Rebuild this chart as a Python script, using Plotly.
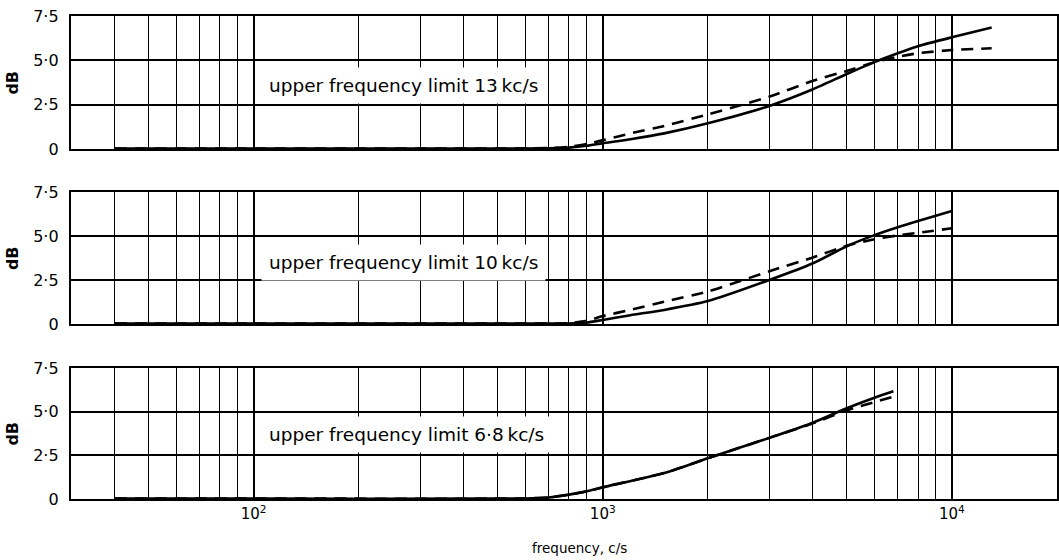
import math
import plotly.graph_objects as go

# ---------------- data ----------------
freq_13k = [40, 100, 500, 700, 800, 900, 1000, 1100, 1200, 1500, 2000, 3000, 4000, 5000, 6000, 7000, 8000, 10000, 13000]
solid_13k = [0.03, 0.03, 0.03, 0.04, 0.08, 0.18, 0.33, 0.44, 0.55, 0.88, 1.45, 2.43, 3.37, 4.23, 4.9, 5.4, 5.8, 6.3, 6.85]
dash_13k = [0.03, 0.03, 0.03, 0.05, 0.12, 0.28, 0.5, 0.69, 0.88, 1.3, 1.95, 2.95, 3.85, 4.4, 4.89, 5.2, 5.4, 5.58, 5.68]

freq_10k = [40, 100, 500, 800, 900, 1000, 1200, 1500, 2000, 3000, 4000, 5000, 6000, 7000, 8000, 10000]
solid_10k = [0.03, 0.03, 0.03, 0.03, 0.08, 0.23, 0.5, 0.8, 1.3, 2.5, 3.45, 4.42, 5.05, 5.5, 5.85, 6.42]
dash_10k = [0.03, 0.03, 0.03, 0.05, 0.18, 0.45, 0.8, 1.27, 1.84, 3.0, 3.78, 4.45, 4.82, 5.03, 5.18, 5.44]

freq_6k8 = [40, 100, 500, 600, 700, 800, 900, 1000, 1500, 2000, 3000, 4000, 5000, 6000, 6800]
solid_6k8 = [0.02, 0.02, 0.02, 0.03, 0.09, 0.25, 0.44, 0.67, 1.49, 2.33, 3.5, 4.37, 5.2, 5.8, 6.17]
dash_6k8 = [0.02, 0.02, 0.02, 0.03, 0.09, 0.25, 0.44, 0.67, 1.49, 2.33, 3.5, 4.33, 5.08, 5.55, 5.85]

panel_labels = ["upper frequency limit 13\u2009kc/s",
                "upper frequency limit 10\u2009kc/s",
                "upper frequency limit 6\u00b78\u2009kc/s"]
label_y = [3.6, 3.5, 3.7]

y_ticks = [0, 2.5, 5.0, 7.5]
y_tick_text = ["0", "2\u00b75", "5\u00b70", "7\u00b75"]

x_major = [100, 1000, 10000]
x_major_text = ["10<sup>2</sup>", "10<sup>3</sup>", "10<sup>4</sup>"]
x_minor = [40, 50, 60, 70, 80, 90, 200, 300, 400, 500, 600, 700, 800, 900,
           2000, 3000, 4000, 5000, 6000, 7000, 8000, 9000]

x_range = [30, 20000]
y_range = [0, 7.5]

# ---------------- figure ----------------
W, H = 1059, 560
ML, MR, MT, MB = 71, 0, 16, 61
plot_h = H - MT - MB

def frac(px_top):
    return (H - MB - px_top) / plot_h

domains = [[frac(149), 1.0], [frac(324), frac(192)], [0.0, frac(368)]]

FONT = "DejaVu Sans"
fig = go.Figure()

series = [(freq_13k, solid_13k, dash_13k), (freq_10k, solid_10k, dash_10k), (freq_6k8, solid_6k8, dash_6k8)]

for i, (f, s, d) in enumerate(series):
    xa = "x" if i == 0 else f"x{i+1}"
    ya = "y" if i == 0 else f"y{i+1}"
    fig.add_trace(go.Scatter(x=f, y=d, mode="lines", xaxis=xa, yaxis=ya,
                             line=dict(color="black", width=2.6, dash="12px,8px", shape="spline", smoothing=0.6),
                             showlegend=False, hoverinfo="skip"))
    fig.add_trace(go.Scatter(x=f, y=s, mode="lines", xaxis=xa, yaxis=ya,
                             line=dict(color="black", width=2.6, shape="spline", smoothing=0.6),
                             showlegend=False, hoverinfo="skip"))

layout = dict(
    width=W, height=H,
    margin=dict(l=ML, r=MR, t=MT, b=MB),
    paper_bgcolor="white", plot_bgcolor="white",
    font=dict(family=FONT, color="black", size=14),
    showlegend=False,
)

for i in range(3):
    xkey = "xaxis" if i == 0 else f"xaxis{i+1}"
    ykey = "yaxis" if i == 0 else f"yaxis{i+1}"
    xa_name = "x" if i == 0 else f"x{i+1}"
    ya_name = "y" if i == 0 else f"y{i+1}"
    xa_def = dict(
        type="log", range=[math.log10(x_range[0]), math.log10(x_range[1])],
        domain=[0, 1], anchor=ya_name,
        tickmode="array", tickvals=x_major,
        showticklabels=(i == 2), ticks="",
        tickfont=dict(size=15, family=FONT),
        showgrid=True, gridcolor="black", gridwidth=2.4,
        minor=dict(tickmode="array", tickvals=x_minor, showgrid=True,
                   gridcolor="black", gridwidth=1.4, ticks=""),
        showline=True, linecolor="black", linewidth=2.4, mirror=True,
        zeroline=False, fixedrange=True,
    )
    if i == 2:
        xa_def["ticktext"] = x_major_text
    layout[xkey] = xa_def
    layout[ykey] = dict(
        range=y_range, domain=domains[i], anchor=xa_name,
        tickmode="array", tickvals=y_ticks, ticktext=y_tick_text,
        ticks="", ticklabelstandoff=7,
        tickfont=dict(size=16, family=FONT),
        showgrid=True, gridcolor="black", gridwidth=1.6,
        showline=True, linecolor="black", linewidth=2.4, mirror=True,
        zeroline=False, fixedrange=True,
    )

fig.update_layout(**layout)

annotations = []
for i in range(3):
    xa_name = "x" if i == 0 else f"x{i+1}"
    ya_name = "y" if i == 0 else f"y{i+1}"
    annotations.append(dict(
        x=math.log10(105), y=label_y[i], xref=xa_name, yref=ya_name,
        text=panel_labels[i], showarrow=False, xanchor="left", yanchor="middle",
        font=dict(size=18.5, family=FONT, color="black"),
        bgcolor="white", borderpad=7,
    ))
    mid = sum(domains[i]) / 2
    annotations.append(dict(
        x=(12 - ML) / (W - ML - MR), y=mid, xref="paper", yref="paper",
        text="<b>dB</b>", textangle=-90, showarrow=False, xanchor="center", yanchor="middle",
        font=dict(size=16, family=FONT, color="black"),
    ))

annotations.append(dict(
    x=(581 - ML) / (W - ML - MR), y=(H - MB - 548) / plot_h, xref="paper", yref="paper",
    text="frequency, c/s", showarrow=False, xanchor="center", yanchor="middle",
    font=dict(size=13.5, family=FONT, color="black"),
))
fig.update_layout(annotations=annotations)

fig.write_html("out.html", config={"displayModeBar": False},
               post_script="document.body.style.margin='0px';document.body.style.padding='0px';")
